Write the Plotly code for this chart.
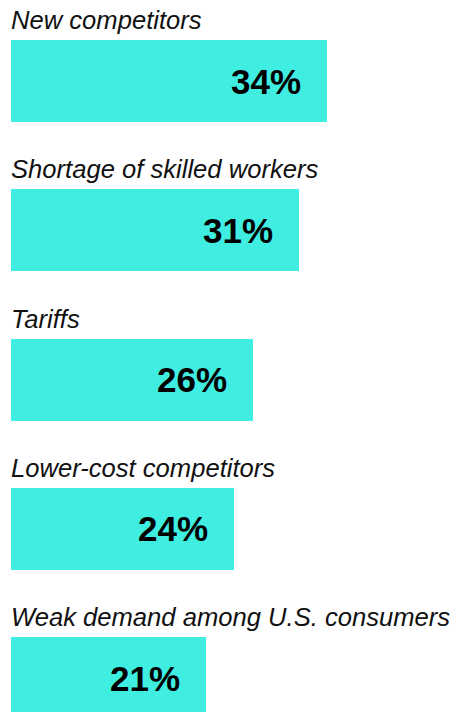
import plotly.graph_objects as go

# Survey results: share of respondents naming each concern
categories = [
    "New competitors",
    "Shortage of skilled workers",
    "Tariffs",
    "Lower-cost competitors",
    "Weak demand among U.S. consumers",
]
values = [34, 31, 26, 24, 21]
value_labels = ["34%", "31%", "26%", "24%", "21%"]

BAR_COLOR = "#3FEEE0"
FONT = "Liberation Sans, Arial, Helvetica, sans-serif"

fig = go.Figure(
    go.Bar(
        x=values,
        y=categories,
        orientation="h",
        width=0.55,
        marker=dict(color=BAR_COLOR, line=dict(width=0)),
        hoverinfo="skip",
    )
)

annotations = []
for cat, val, lab in zip(categories, values, value_labels):
    # category title sitting above each bar
    annotations.append(
        dict(
            x=0, y=cat, xref="x", yref="y",
            text=cat,
            showarrow=False, xanchor="left", yanchor="middle",
            xshift=-2, yshift=61,
            font=dict(family=FONT, size=25.6, color="#111111", style="italic"),
        )
    )
    # value printed inside the bar near its end
    annotations.append(
        dict(
            x=val, y=cat, xref="x", yref="y",
            text=f"<b>{lab}</b>",
            showarrow=False, xanchor="right", yanchor="middle",
            xshift=-24, yshift=0,
            font=dict(family=FONT, size=35, color="#000000"),
        )
    )

fig.update_layout(
    width=456,
    height=712,
    margin=dict(l=0, r=0, t=0, b=0),
    paper_bgcolor="white",
    plot_bgcolor="white",
    showlegend=False,
    bargap=0,
    annotations=annotations,
    xaxis=dict(range=[-11 / 9.294, 445 / 9.294], visible=False, fixedrange=True),
    yaxis=dict(
        type="category",
        categoryorder="array",
        categoryarray=categories,
        range=[(712 - 81) / 149.3, -81 / 149.3],
        visible=False,
        fixedrange=True,
    ),
)

fig.write_html("out.html", config={"displayModeBar": False})
